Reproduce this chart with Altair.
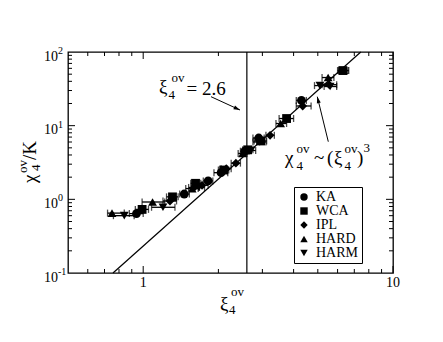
import altair as alt
import pandas as pd

FONT = "Liberation Serif"
W, H = 325, 221

# ---------------- data ----------------
series_names = ["KA", "WCA", "IPL", "HARD", "HARM"]
series_shapes = ["circle", "square", "diamond", "triangle-up", "triangle-down"]

ka_x = [0.94, 1.46, 1.82, 2.05, 2.55, 2.9, 4.3]
ka_y = [0.64, 1.18, 1.78, 2.3, 4.5, 6.8, 22.0]
ka_lo = [0.88, 1.40, 1.74, 1.92, 2.45, 2.75, 4.1]
ka_hi = [1.00, 1.53, 1.90, 2.18, 2.65, 3.05, 4.5]

wca_x = [0.99, 1.31, 1.62, 2.1, 2.62, 2.95, 3.75, 6.3]
wca_y = [0.73, 1.08, 1.65, 2.5, 4.7, 6.2, 12.5, 56.0]
wca_lo = [0.93, 1.24, 1.55, 2.0, 2.5, 2.78, 3.5, 6.0]
wca_hi = [1.05, 1.38, 1.70, 2.2, 2.75, 3.12, 4.0, 6.6]

ipl_x = [1.28, 1.6, 1.72, 2.15, 2.35, 3.22, 4.35, 5.55]
ipl_y = [0.95, 1.45, 1.55, 2.6, 3.1, 7.4, 18.5, 36.0]
ipl_lo = [1.2, 1.52, 1.63, 2.05, 2.25, 3.1, 4.1, 5.2]
ipl_hi = [1.36, 1.68, 1.82, 2.25, 2.45, 3.35, 4.7, 5.95]

hard_x = [0.75, 1.09, 1.57, 2.5, 3.55, 5.5, 6.35]
hard_y = [0.65, 0.92, 1.4, 4.2, 10.7, 45.0, 56.0]
hard_lo = [0.72, 0.99, 1.48, 2.4, 3.4, 5.2, 6.05]
hard_hi = [0.84, 1.22, 1.66, 2.6, 3.75, 5.8, 6.65]

harm_x = [0.84, 1.2, 1.67, 2.7, 2.93, 5.1, 5.6]
harm_y = [0.6, 0.78, 1.45, 4.6, 6.0, 35.0, 34.0]
harm_lo = [0.76, 1.08, 1.58, 2.6, 2.75, 4.85, 5.3]
harm_hi = [0.92, 1.34, 1.76, 2.82, 3.1, 5.6, 5.95]

fit_x = [0.757, 7.43]
fit_y = [0.1, 100.0]
xi_cut = [2.6]

x_major = [1, 10]
x_minor = [0.6, 0.7, 0.8, 0.9, 2, 3, 4, 5, 6, 7, 8, 9]
y_major = [1, 10]
y_minor = [0.2, 0.3, 0.4, 0.5, 0.6, 0.7, 0.8, 0.9,
           2, 3, 4, 5, 6, 7, 8, 9,
           20, 30, 40, 50, 60, 70, 80, 90]
x_labels = [1, 10]
y_label_vals = [0.1, 1, 10, 100]
y_label_exp = ["-1", "0", "1", "2"]

# ---------------- build ----------------
xs = alt.Scale(type="log", domain=[0.5, 10])
ys = alt.Scale(type="log", domain=[0.1, 100])

rows = []
for name, X, Y, LO, HI in [
    ("KA", ka_x, ka_y, ka_lo, ka_hi),
    ("WCA", wca_x, wca_y, wca_lo, wca_hi),
    ("IPL", ipl_x, ipl_y, ipl_lo, ipl_hi),
    ("HARD", hard_x, hard_y, hard_lo, hard_hi),
    ("HARM", harm_x, harm_y, harm_lo, harm_hi),
]:
    for a, b, c, d in zip(X, Y, LO, HI):
        rows.append({"series": name, "x": a, "y": b, "lo": c, "hi": d})
df = pd.DataFrame(rows)

one = pd.DataFrame({"a": [0]})

def txt(s, x, y, size, angle=0, align="left", baseline="alphabetic"):
    return alt.Chart(one).mark_text(
        text=s, font=FONT, fontSize=size, align=align, baseline=baseline,
        angle=angle, color="black"
    ).encode(x=alt.value(x), y=alt.value(y))

def tick_layer(vals, axis, side, length):
    d = pd.DataFrame({"v": vals})
    m = alt.Chart(d).mark_rule(color="black", strokeWidth=1)
    if axis == "x":
        y0 = H if side == "bottom" else 0
        y1 = H - length if side == "bottom" else length
        return m.encode(x=alt.X("v:Q", scale=xs, axis=None),
                        y=alt.value(y0), y2=alt.value(y1))
    x0 = 0 if side == "left" else W
    x1 = length if side == "left" else W - length
    return m.encode(y=alt.Y("v:Q", scale=ys, axis=None),
                    x=alt.value(x0), x2=alt.value(x1))

def arrow(x0, y0, x1, y1, ang):
    shaft = alt.Chart(one).mark_rule(color="black", strokeWidth=1).encode(
        x=alt.value(x0), y=alt.value(y0), x2=alt.value(x1), y2=alt.value(y1))
    head = alt.Chart(one).mark_point(
        shape="M0,0L0.5,1.6L-0.5,1.6Z", filled=True, color="black",
        size=64, angle=ang, opacity=1
    ).encode(x=alt.value(x1), y=alt.value(y1))
    return shaft + head

layers = []
MAJ, MIN = 7, 4
for side in ["bottom", "top"]:
    layers.append(tick_layer(x_major, "x", side, MAJ))
    layers.append(tick_layer(x_minor, "x", side, MIN))
for side in ["left", "right"]:
    layers.append(tick_layer(y_major, "y", side, MAJ))
    layers.append(tick_layer(y_minor, "y", side, MIN))

vline = alt.Chart(pd.DataFrame({"x": xi_cut})).mark_rule(
    color="black", strokeWidth=1.2).encode(x=alt.X("x:Q", scale=xs, axis=None))
fit = alt.Chart(pd.DataFrame({"x": fit_x, "y": fit_y})).mark_line(
    color="black", strokeWidth=1.2).encode(
    x=alt.X("x:Q", scale=xs, axis=None), y=alt.Y("y:Q", scale=ys, axis=None))

err = alt.Chart(df).mark_errorbar(
    ticks={"size": 7, "color": "black"}, color="black", thickness=1.3
).encode(
    x=alt.X("lo:Q", scale=xs, axis=None, title=None),
    x2="hi:Q",
    y=alt.Y("y:Q", scale=ys, axis=None, title=None),
)

pts = alt.Chart(df).mark_point(filled=True, size=78, opacity=1, color="black").encode(
    x=alt.X("x:Q", scale=xs, axis=None),
    y=alt.Y("y:Q", scale=ys, axis=None),
    shape=alt.Shape("series:N",
                    scale=alt.Scale(domain=series_names, range=series_shapes),
                    legend=alt.Legend(
                        title=None, orient="none", legendX=226, legendY=135,
                        strokeColor="black", fillColor="white", padding=3,
                        labelFont=FONT, labelFontSize=14, labelColor="black",
                        symbolSize=55, symbolFillColor="black",
                        symbolStrokeColor="black", labelOffset=5, rowPadding=0)),
)

xlab = alt.Chart(pd.DataFrame({"v": x_labels})).mark_text(
    font=FONT, fontSize=14, baseline="alphabetic", align="center", color="black"
).encode(x=alt.X("v:Q", scale=xs, axis=None), y=alt.value(H + 14),
         text=alt.Text("v:Q", format="d"))

ylab_df = pd.DataFrame({"v": y_label_vals, "e": y_label_exp})
ylab10 = alt.Chart(ylab_df).mark_text(
    text="10", font=FONT, fontSize=14, align="left", baseline="alphabetic",
    dy=8.5, color="black").encode(
    y=alt.Y("v:Q", scale=ys, axis=None), x=alt.value(-24))
ylabe = alt.Chart(ylab_df).mark_text(
    font=FONT, fontSize=10, align="left", baseline="alphabetic",
    dy=2, color="black").encode(
    y=alt.Y("v:Q", scale=ys, axis=None), x=alt.value(-10), text="e:N")

annot = [
    # x-axis title
    txt("ξ", 152, 258, 19),
    txt("ov", 163, 244, 13),
    txt("4", 161, 262, 13),
    # y-axis title (rotated)
    txt("χ", -32, 131, 19, angle=270),
    txt("4", -28, 119, 13, angle=270),
    txt("ov", -41, 121, 13, angle=270),
    txt("/K", -32, 108, 19, angle=270),
    # annotation 1
    txt("ξ", 91, 40.5, 19),
    txt("ov", 103.5, 29.5, 13),
    txt("4", 100.5, 46.5, 13),
    txt("= 2.6", 118.5, 43, 19),
    # annotation 2
    txt("χ", 217, 112, 19),
    txt("ov", 228.5, 100.5, 13),
    txt("4", 228.5, 118, 13),
    txt("~", 246, 112, 19),
    txt("(", 259, 112, 19),
    txt("ξ", 266, 112, 19),
    txt("ov", 276.5, 100.5, 13),
    txt("4", 276.5, 118, 13),
    txt(")", 289, 112, 19),
    txt("3", 295.5, 100, 13),
]

arrows = [arrow(143, 44.7, 172, 58, 114.6), arrow(260.3, 89.7, 249.3, 44.7, 346.3)]

chart = alt.layer(
    *layers, vline, fit, err, pts, xlab, ylab10, ylabe, *annot, *arrows
).properties(
    width=W, height=H,
    padding={"left": 60, "top": 44, "right": 40, "bottom": 59},
    autosize=alt.AutoSizeParams(type="none"),
).configure_view(stroke="black", strokeWidth=1.3)

chart.save("out.html", embed_options={"renderer": "svg", "actions": False})
